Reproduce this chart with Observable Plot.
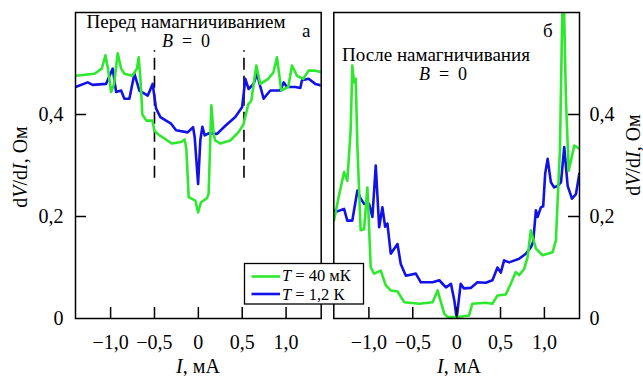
<!DOCTYPE html>
<html><head><meta charset="utf-8">
<script src="https://cdn.jsdelivr.net/npm/d3@7"></script>
<script src="https://cdn.jsdelivr.net/npm/@observablehq/plot@0.6"></script>
<style>
html,body{margin:0;padding:0;background:#fff;}
#chart{position:relative;width:643px;height:376px;overflow:hidden;font-family:"Liberation Serif","Times New Roman",serif;}
#chart svg{position:absolute;top:0;}
</style></head><body><div id="chart"></div>
<script>
// ---- data ----
const xTicks = [-1, -0.5, 0, 0.5, 1];
const yTicks = [0, 0.2, 0.4];
const dashX = [-0.5, 0.52];
const dashY = [0.275, 0.525];

// Panel а (before magnetization), T = 40 mK
const aGreenX = [-1.40,-1.184,-1.10,-1.059,-1.03,-0.994,-0.96,-0.919,-0.88,-0.843,-0.752,-0.70,-0.68,-0.66,-0.638,-0.592,-0.524,-0.50,-0.45,-0.387,-0.30,-0.197,-0.156,-0.137,-0.11,-0.034,-0.003,0.031,0.099,0.117,0.148,0.175,0.194,0.25,0.364,0.456,0.513,0.569,0.604,0.641,0.661,0.706,0.797,0.854,0.896,0.945,1.025,1.067,1.124,1.196,1.256,1.333,1.40];
const aGreenY = [0.476,0.48,0.49,0.516,0.49,0.444,0.46,0.52,0.49,0.48,0.476,0.49,0.512,0.47,0.40,0.388,0.388,0.368,0.36,0.353,0.343,0.346,0.351,0.333,0.238,0.231,0.208,0.228,0.236,0.245,0.418,0.36,0.349,0.343,0.349,0.365,0.38,0.42,0.427,0.473,0.496,0.46,0.47,0.482,0.512,0.447,0.454,0.496,0.476,0.47,0.486,0.486,0.483];
// Panel а, T = 1.2 K
const aBlueX = [-1.40,-1.261,-1.204,-1.052,-0.976,-0.937,-0.88,-0.843,-0.786,-0.729,-0.672,-0.577,-0.521,-0.482,-0.433,-0.311,-0.254,-0.122,-0.06,-0.042,-0.003,0.023,0.046,0.072,0.117,0.213,0.308,0.421,0.498,0.516,0.535,0.573,0.63,0.669,0.706,0.744,0.82,0.934,0.972,1.01,1.105,1.162,1.181,1.256,1.333,1.40];
const aBlueY = [0.454,0.463,0.458,0.46,0.49,0.444,0.447,0.431,0.431,0.48,0.447,0.437,0.46,0.412,0.395,0.382,0.369,0.365,0.375,0.356,0.264,0.35,0.376,0.359,0.363,0.362,0.378,0.395,0.414,0.44,0.47,0.45,0.46,0.48,0.455,0.431,0.447,0.447,0.463,0.454,0.454,0.452,0.467,0.47,0.46,0.457];

// Panel б (after magnetization), T = 40 mK
const bGreenX = [-1.398,-1.341,-1.283,-1.246,-1.208,-1.189,-1.169,-1.15,-1.131,-1.094,-1.055,-1.017,-0.979,-0.941,-0.865,-0.808,-0.751,-0.674,-0.598,-0.426,-0.274,-0.217,-0.141,-0.103,0.011,0.141,0.179,0.331,0.408,0.465,0.56,0.617,0.674,0.712,0.769,0.808,0.846,0.903,0.979,1.094,1.131,1.151,1.177,1.20,1.215,1.246,1.277,1.303,1.341,1.398];
const bGreenY = [0.192,0.241,0.287,0.27,0.369,0.496,0.463,0.47,0.336,0.173,0.175,0.257,0.10,0.088,0.094,0.065,0.055,0.053,0.032,0.029,0.032,0.055,0.009,0.003,0.003,0.006,0.029,0.031,0.029,0.045,0.047,0.068,0.091,0.085,0.097,0.12,0.173,0.137,0.124,0.13,0.153,0.231,0.33,0.56,0.68,0.427,0.29,0.31,0.339,0.333];
// Panel б, T = 1.2 K
const bBlueX = [-1.398,-1.36,-1.283,-1.246,-1.189,-1.131,-1.094,-1.055,-0.998,-0.96,-0.922,-0.883,-0.846,-0.815,-0.789,-0.751,-0.674,-0.637,-0.579,-0.465,-0.408,-0.274,-0.198,-0.122,-0.065,-0.026,0.0,0.008,0.046,0.083,0.16,0.237,0.331,0.408,0.465,0.503,0.541,0.598,0.712,0.789,0.846,0.872,0.903,0.922,0.96,0.986,1.009,1.037,1.074,1.112,1.151,1.189,1.226,1.265,1.314,1.36,1.398];
const bBlueY = [0.212,0.21,0.215,0.192,0.192,0.251,0.235,0.225,0.225,0.199,0.30,0.179,0.218,0.18,0.186,0.127,0.146,0.107,0.084,0.088,0.071,0.071,0.075,0.061,0.068,0.035,0.0,0.012,0.068,0.059,0.06,0.071,0.07,0.075,0.10,0.09,0.114,0.11,0.117,0.127,0.14,0.15,0.212,0.199,0.218,0.22,0.284,0.313,0.267,0.257,0.26,0.267,0.336,0.26,0.235,0.244,0.284];

const legendLabels = ["40 мК", "1,2 К"];

// ---- styling ----
const GREEN = "#2ee82e", BLUE = "#1212e6";
const FONT = "'Liberation Serif','Times New Roman',serif";
const fmt = d => d === 0 ? "0" : (d < 0 ? "\u2212" : "") + Math.abs(d).toFixed(1).replace(".", ",");
const H = 376, MT = 12, MB = 58, PLOT_H = H - MT - MB, PANEL_W = 245.7, TICK = 11;

const toRows = (xs, ys) => xs.map((x, i) => ({x, y: ys[i]}));

function panel({gx, gy, bx, by, width, marginLeft, marginRight, side, extra = []}) {
  return Plot.plot({
    width, height: H, marginTop: MT, marginBottom: MB, marginLeft, marginRight,
    style: `background:transparent;overflow:visible;font-family:${FONT};font-size:20px;`,
    x: {domain: [-1.4, 1.4]},
    y: {domain: [0, 0.6]},
    marks: [
      ...extra,
      Plot.line(toRows(bx, by), {x: "x", y: "y", stroke: BLUE, strokeWidth: 2.6, clip: true}),
      Plot.line(toRows(gx, gy), {x: "x", y: "y", stroke: GREEN, strokeWidth: 2.6, clip: true}),
      Plot.tickX(xTicks, {x: d => d, stroke: "black", strokeWidth: 1.5, insetTop: PLOT_H - TICK}),
      Plot.tickY(yTicks.filter(d => d > 0), side === "left"
        ? {y: d => d, stroke: "black", strokeWidth: 1.5, insetRight: PANEL_W - TICK}
        : {y: d => d, stroke: "black", strokeWidth: 1.5, insetLeft: PANEL_W - TICK}),
      Plot.frame({stroke: "black", strokeWidth: 1.5}),
      Plot.axisX({ticks: xTicks, tickFormat: fmt, tickSize: 0, tickPadding: 16, fontSize: 20, label: null}),
      Plot.axisY({anchor: side, ticks: yTicks, tickFormat: fmt, tickSize: 0, tickPadding: side === "left" ? 12 : 10, fontSize: 20, label: null})
    ]
  });
}

const chart = document.getElementById("chart");

const left = panel({
  gx: aGreenX, gy: aGreenY, bx: aBlueX, by: aBlueY,
  width: 327, marginLeft: 75, marginRight: 6.3, side: "left",
  extra: [Plot.ruleX(dashX, {x: d => d, y1: dashY[0], y2: dashY[1], stroke: "black", strokeWidth: 1.6, strokeDasharray: "12,6"})]
});
left.style.left = "0px";
chart.appendChild(left);

const right = panel({
  gx: bGreenX, gy: bGreenY, bx: bBlueX, by: bBlueY,
  width: 316, marginLeft: 6.3, marginRight: 64, side: "right"
});
right.style.left = "327px";
chart.appendChild(right);

// ---- overlay: annotations, axis titles, legend ----
const ov = d3.create("svg").attr("width", 643).attr("height", H)
  .style("left", "0px").style("font-family", FONT).style("pointer-events", "none");

function txt(x, y, parts, {size = 19, anchor = "middle", rotate = 0} = {}) {
  const t = ov.append("text").attr("font-size", size).attr("text-anchor", anchor).attr("fill", "black")
    .attr("transform", `translate(${x},${y})` + (rotate ? ` rotate(${rotate})` : ""));
  parts.forEach(p => {
    const s = t.append("tspan").text(p[0]);
    if (p[1]) s.attr("font-style", "italic");
  });
  return t;
}

txt(186, 28, [["Перед намагничиванием"]]);
txt(186, 47, [["B", 1], ["\u2002=\u20020"]], {size: 18});
txt(302, 37, [["а"]], {anchor: "start"});
txt(436, 61, [["После намагничивания"]]);
txt(443, 80, [["B", 1], ["\u2002=\u20020"]], {size: 18});
txt(543, 37, [["б"]], {anchor: "start"});

txt(198, 373, [["I", 1], [", мА"]], {size: 20});
txt(459, 373, [["I", 1], [", мА"]], {size: 20});
txt(26.5, 167, [["d"], ["V", 1], ["/d"], ["I", 1], [", Ом"]], {size: 20, rotate: -90});
txt(640, 155, [["d"], ["V", 1], ["/d"], ["I", 1], [", Ом"]], {size: 20, rotate: -90});

// legend
ov.append("rect").attr("x", 244.5).attr("y", 263.5).attr("width", 119).attr("height", 40.5)
  .attr("fill", "white").attr("stroke", "black").attr("stroke-width", 1.3);
[[GREEN, 276.5, 281], [BLUE, 294, 299.5]].forEach(([c, ly, ty], i) => {
  ov.append("line").attr("x1", 251.5).attr("x2", 280).attr("y1", ly).attr("y2", ly)
    .attr("stroke", c).attr("stroke-width", 2.6);
  txt(282, ty, [["T", 1], ["\u2005=\u2005" + legendLabels[i]]], {size: 16.5, anchor: "start"});
});

chart.appendChild(ov.node());
</script></body></html>
